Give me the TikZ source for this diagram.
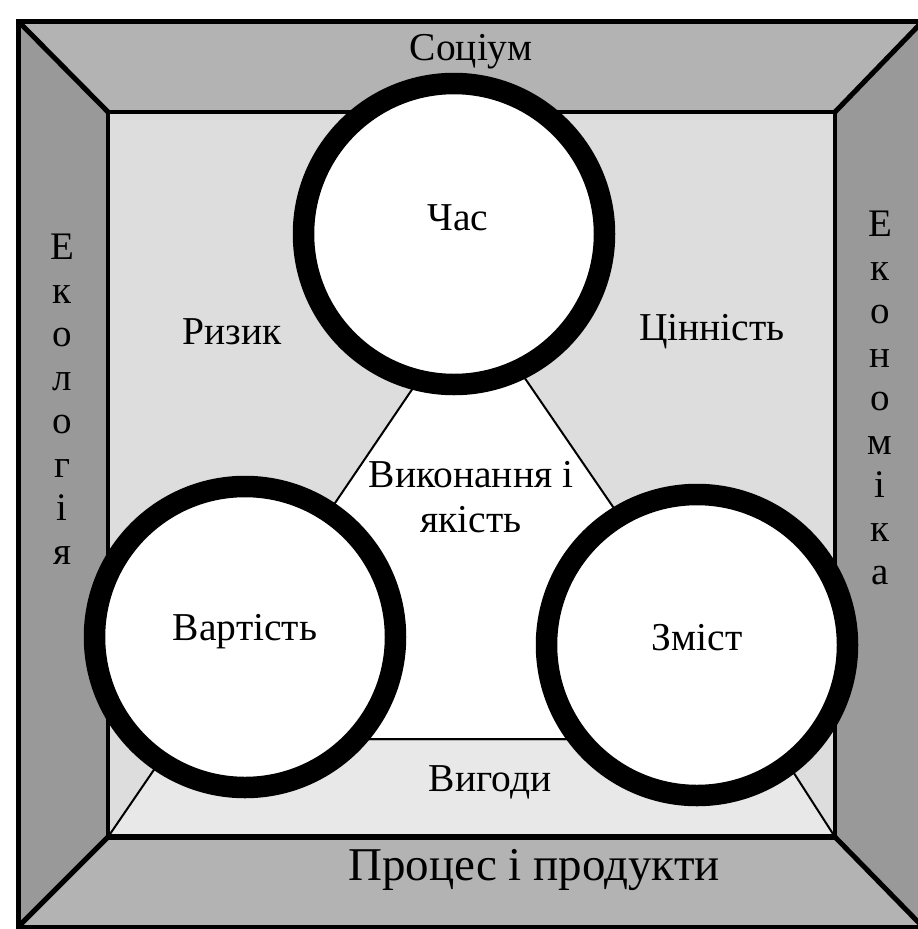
\documentclass[tikz,border=0pt]{standalone}
\usepackage{fontspec}
\setmainfont{Liberation Serif}
\definecolor{frameTB}{HTML}{B3B3B3}
\definecolor{frameLR}{HTML}{999999}
\definecolor{innerbg}{HTML}{DDDDDD}
\definecolor{benefitbg}{HTML}{E8E8E8}
\begin{document}
\begin{tikzpicture}[x=1pt,y=-1pt,
  lbl/.style={font=\fontsize{39.5}{45}\selectfont, inner sep=0pt},
  biglbl/.style={font=\fontsize{47}{50}\selectfont, inner sep=0pt},
  vlbl/.style={font=\fontsize{39}{43.5}\selectfont, inner sep=0pt, align=center},
  thick frame/.style={line width=5pt, line join=miter},
  thin edge/.style={line width=2pt},
  ring/.style={circle, draw=black, fill=white, line width=21.5pt, minimum size=301pt, inner sep=0pt}
]
\useasboundingbox (0,0) rectangle (918,929);
\clip (0,0) rectangle (918,929);
% corners of frame
\coordinate (otl) at (18,21);
\coordinate (otr) at (923,21);
\coordinate (obr) at (923,927);
\coordinate (obl) at (18,927);
\coordinate (itl) at (108,112);
\coordinate (itr) at (835,112);
\coordinate (ibr) at (835,837);
\coordinate (ibl) at (108,837);
% triangle corners
\coordinate (ta) at (472,301);
\coordinate (tl) at (175,739);
\coordinate (tr) at (772,739);
% fills
\fill[frameTB] (otl) -- (otr) -- (itr) -- (itl) -- cycle;
\fill[frameTB] (obl) -- (obr) -- (ibr) -- (ibl) -- cycle;
\fill[frameLR] (otl) -- (itl) -- (ibl) -- (obl) -- cycle;
\fill[frameLR] (otr) -- (itr) -- (ibr) -- (obr) -- cycle;
\fill[innerbg] (itl) rectangle (ibr);
% benefits trapezoid and triangle
\filldraw[fill=benefitbg, draw=black, thin edge] (ibl) -- (ibr) -- (tr) -- (tl) -- cycle;
\filldraw[fill=white, draw=black, thin edge] (ta) -- (tl) -- (tr) -- cycle;
% frame lines
\draw[thick frame] (otl) rectangle (obr);
\draw[thick frame] (otl) -- (itl);
\draw[thick frame] (otr) -- (itr);
\draw[thick frame] (obl) -- (ibl);
\draw[thick frame] (obr) -- (ibr);
\draw[line width=4pt] (itl) rectangle (ibr);
\draw[line width=6pt] (ibl) -- (ibr);
% circles
\node[ring] (time) at (454,234) {};
\node[ring] (cost) at (245,637) {};
\node[ring] (scope) at (697,645) {};
% texts
\node[lbl] (tTime) at (458,218) {Час};
\node[lbl] (tCost) at (245,632) {Вартість};
\node[lbl] (tScope) at (697,638) {Зміст};
\node[lbl] (tSoc) at (471,52) {Соціум};
\node[lbl] (tRisk) at (232,332) {Ризик};
\node[lbl] (tValue) at (712,332) {Цінність};
\node[lbl, align=center] (tPerf) at (471,497) {Виконання і\\якість};
\node[lbl] (tBen) at (490,782) {Вигоди};
\node[biglbl] (tProc) at (534,870) {Процес і продукти};
\node[vlbl] (tEco) at (62,399) {Е\\к\\о\\л\\о\\г\\і\\я};
\node[vlbl] (tEcon) at (880,398) {Е\\к\\о\\н\\о\\м\\і\\к\\а};
\end{tikzpicture}
\end{document}
